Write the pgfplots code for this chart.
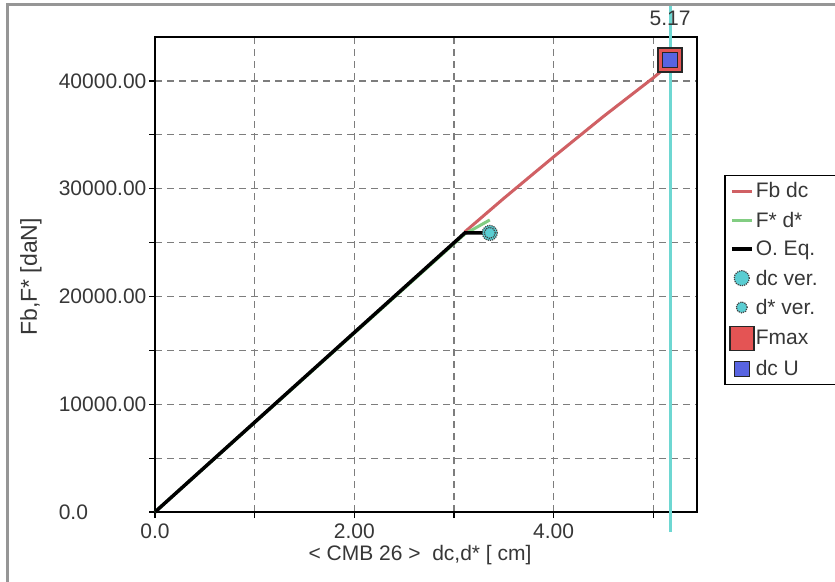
\documentclass[border=0pt]{standalone}
\usepackage{fontspec}
\setmainfont{Liberation Sans}
\usepackage{pgfplots}
\pgfplotsset{compat=1.18}

\definecolor{fbred}{RGB}{208,96,100}
\definecolor{fdgreen}{RGB}{130,205,130}
\definecolor{vcyan}{RGB}{110,215,210}
\definecolor{mcyan}{RGB}{90,205,210}
\definecolor{fmaxred}{RGB}{228,84,84}
\definecolor{dcublue}{RGB}{88,100,225}
\definecolor{framegray}{RGB}{150,150,150}
\definecolor{gridgray}{RGB}{125,125,125}
\definecolor{txt}{RGB}{55,55,55}

\newcommand{\chfont}{\fontsize{21}{25}\selectfont}

\pgfplotsset{
  lineleg/.style={legend image code/.code={\draw[##1] (0pt,0pt) -- (20pt,0pt);}},
  markleg/.style={legend image code/.code={\draw[##1] plot coordinates {(10pt,0pt)};}},
}

\begin{document}
\begin{tikzpicture}[x=1pt,y=1pt]
\useasboundingbox (0,0) rectangle (835,581);
\fill[white] (0,0) rectangle (835,581);
\clip (0,0) rectangle (835,581);
\draw[framegray, line width=3pt] (7,-5) -- (7,576) -- (840,576);
\begin{axis}[
  at={(155pt,69pt)}, anchor=south west,
  scale only axis, width=542pt, height=475pt,
  xmin=0, xmax=5.44, ymin=0, ymax=44080,
  clip=false,
  axis line style={line width=2.5pt},
  tick pos=left, tick align=outside,
  major tick length=6pt, minor tick length=6pt,
  tick style={black, line width=1.2pt},
  xtick={0,2,4}, xticklabels={0.0,2.00,4.00},
  minor xtick={1,3,5},
  ytick={0,10000,20000,30000,40000},
  yticklabels={0.0,10000.00,20000.00,30000.00,40000.00},
  minor ytick={5000,15000,25000,35000},
  grid=both,
  major grid style={gridgray, line width=1.2pt, dash pattern=on 7pt off 5pt},
  minor grid style={gridgray, line width=1.2pt, dash pattern=on 7pt off 5pt},
  scaled ticks=false,
  ticklabel style={font=\chfont, text=txt},
  yticklabel style={anchor=east, text width=89pt, align=left, inner sep=0pt, xshift=-1pt},
  xticklabel style={yshift=-2pt},
  label style={font=\chfont, text=txt},
  xlabel={< CMB 26 >\ \ dc,d* [ cm]},
  ylabel={Fb,F* [daN]},
  xlabel style={at={(axis description cs:0.489,-0.09)}, anchor=center},
  ylabel style={at={(axis description cs:-0.229,0.495)}, anchor=center,
    font=\fontsize{23}{27}\selectfont},
  legend style={at={(axis description cs:1.0498,0.7095)}, anchor=north west,
    draw=black, line width=1.5pt, font=\chfont, text=txt,
    row sep=8.5pt, inner xsep=5pt, inner ysep=5pt},
  legend cell align=left,
]
\addplot[vcyan, line width=3pt, forget plot] coordinates {(5.17,-1860)(5.17,47000)};
\addplot[fbred, line width=3pt, lineleg] coordinates {
  (3.11,26000)(3.5,29100)(4.0,32950)(4.5,36700)(5.0,40280)(5.17,41600)};
\addlegendentry{Fb dc\hspace*{50pt}}
\addplot[fdgreen, line width=3pt, lineleg] coordinates {(0,0)(3.11,25800)(3.36,27100)};
\addlegendentry{F* d*}
\addplot[black, line width=3.5pt, lineleg] coordinates {(0,0)(3.11,25900)(3.36,25900)};
\addlegendentry{O. Eq.}
\addplot[only marks, mark=*, mark size=7.5pt, markleg,
  mark options={fill=mcyan, draw=black!75, line width=1.2pt, densely dotted}]
  coordinates {(3.36,25900)};
\addlegendentry{dc ver.}
\addplot[only marks, mark=*, mark size=5.5pt, markleg,
  mark options={fill=mcyan, draw=black!75, line width=1.2pt, densely dotted}]
  coordinates {(3.36,25900)};
\addlegendentry{d* ver.}
\addplot[only marks, mark=square*, mark size=12pt, markleg,
  mark options={fill=fmaxred, draw=black!85, line width=1.5pt}]
  coordinates {(5.17,41950)};
\addlegendentry{Fmax}
\addplot[only marks, mark=square*, mark size=7.5pt, markleg,
  mark options={fill=dcublue, draw=black!85, line width=1.5pt}]
  coordinates {(5.17,41950)};
\addlegendentry{dc U}
\node[font=\chfont, text=txt] at (axis cs:5.17,45850) {5.17};
\end{axis}
\end{tikzpicture}
\end{document}
